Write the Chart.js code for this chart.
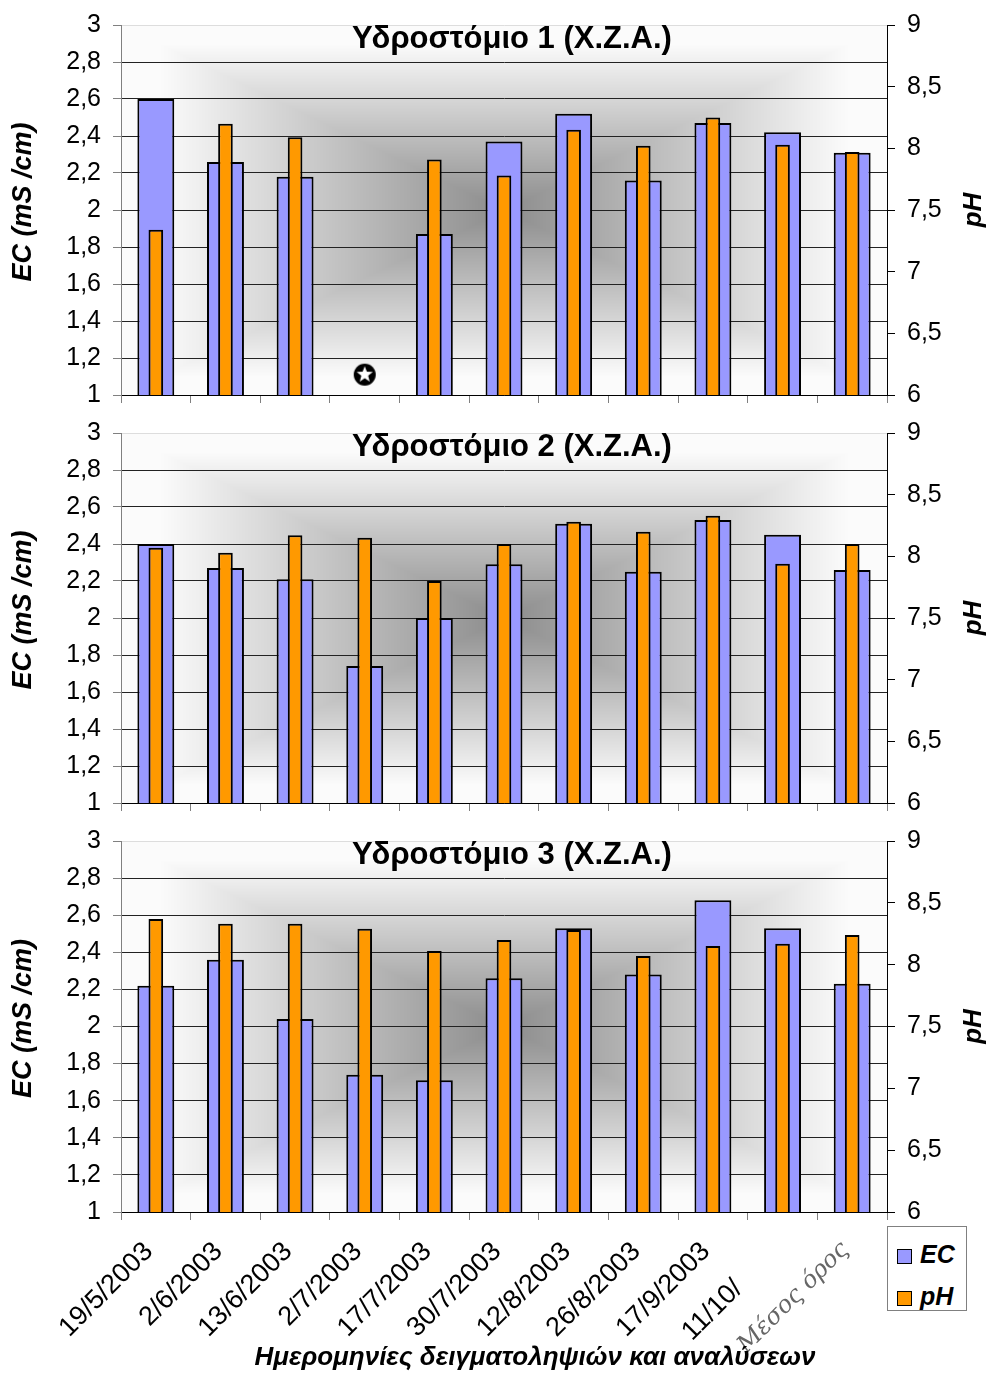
<!DOCTYPE html>
<html>
<head>
<meta charset="utf-8">
<script src="https://cdn.jsdelivr.net/npm/chart.js@4.4.1/dist/chart.umd.min.js"></script>
<style>
  body { margin: 0; background: #fff; width: 990px; height: 1373px; position: relative; overflow: hidden; font-family: Arial, "Liberation Sans", sans-serif; }
  canvas { position: absolute; left: 0; }
  #legend { position: absolute; left: 887px; top: 1226px; width: 78px; height: 83px; border: 1px solid #808080; background: #fff; }
  #legend div { position: absolute; left: 9px; font: italic bold 25px Arial, "Liberation Sans", sans-serif; line-height: 30px; }
  #legend span { display: inline-block; width: 13px; height: 13px; border: 1px solid #000; margin-right: 8px; vertical-align: -1px; }
  #xtitle { position: absolute; left: 0; width: 1070px; top: 1341px; text-align: center; font: italic bold 26px Arial, "Liberation Sans", sans-serif; }
</style>
</head>
<body>
<canvas id="c1" width="990" height="413" style="top:0"></canvas>
<canvas id="c2" width="990" height="408" style="top:413px"></canvas>
<canvas id="c3" width="990" height="552" style="top:821px"></canvas>
<div id="legend">
  <div style="top:12px"><span style="background:#9999ff"></span>EC</div>
  <div style="top:54px"><span style="background:#ff9900"></span>pH</div>
</div>
<div id="xtitle">Ημερομηνίες δειγματοληψιών και αναλύσεων</div>
<script>
const dates = ['19/5/2003', '2/6/2003', '13/6/2003', '2/7/2003', '17/7/2003', '30/7/2003',
  '12/8/2003', '26/8/2003', '17/9/2003', '11/10/\u00a0\u00a0\u00a0\u00a0\u00a0\u00a0\u00a0', 'Μέσος όρος'];
const titles = ['Υδροστόμιο 1 (Χ.Ζ.Α.)', 'Υδροστόμιο 2 (Χ.Ζ.Α.)', 'Υδροστόμιο 3 (Χ.Ζ.Α.)'];

const ec1 = [2.60, 2.26, 2.18, null, 1.87, 2.37, 2.52, 2.16, 2.47, 2.42, 2.31];
const ph1 = [7.34, 8.20, 8.09, null, 7.91, 7.78, 8.15, 8.02, 8.25, 8.03, 7.97];
const missing1 = [null, null, null, 1.11, null, null, null, null, null, null, null];

const ec2 = [2.40, 2.27, 2.21, 1.74, 2.00, 2.29, 2.51, 2.25, 2.53, 2.45, 2.26];
const ph2 = [8.07, 8.03, 8.17, 8.15, 7.80, 8.10, 8.28, 8.20, 8.33, 7.94, 8.10];

const ec3 = [2.22, 2.36, 2.04, 1.74, 1.71, 2.26, 2.53, 2.28, 2.68, 2.53, 2.23];
const ph3 = [8.37, 8.33, 8.33, 8.29, 8.11, 8.20, 8.28, 8.07, 8.15, 8.17, 8.24];

const ecAxis = [1, 3, 0.2];   // min, max, step
const phAxis = [6, 9, 0.5];

const FONT = 'Arial, "Liberation Sans", sans-serif';
const comma = v => String(Math.round(v * 10) / 10).replace('.', ',');

function starIcon() {
  const c = document.createElement('canvas');
  c.width = c.height = 24;
  const g = c.getContext('2d');
  g.fillStyle = '#000';
  g.beginPath(); g.arc(12, 12, 11, 0, Math.PI * 2); g.fill();
  g.fillStyle = '#fff';
  g.beginPath();
  for (let i = 0; i < 10; i++) {
    const r = i % 2 ? 3.6 : 8.5, a = -Math.PI / 2 + i * Math.PI / 5;
    g.lineTo(12 + r * Math.cos(a), 12 + r * Math.sin(a));
  }
  g.closePath(); g.fill();
  return c;
}

// rectangular "from center" gradient behind the plot
const bgPlugin = {
  id: 'bg',
  beforeDraw(chart) {
    const { ctx, chartArea: a } = chart;
    const w = Math.round(a.right - a.left), h = Math.round(a.bottom - a.top);
    const off = document.createElement('canvas');
    off.width = w; off.height = h;
    const g = off.getContext('2d');
    const img = g.createImageData(w, h);
    const hw = w / 2, hh = h / 2;
    for (let y = 0; y < h; y++) {
      for (let x = 0; x < w; x++) {
        const t = Math.min(1, Math.max(Math.abs(x - hw) / hw, Math.abs(y - hh) / hh) / 0.9);
        const v = 140 + (251 - 140) * t;
        const i = (y * w + x) * 4;
        img.data[i] = img.data[i + 1] = img.data[i + 2] = v;
        img.data[i + 3] = 255;
      }
    }
    g.putImageData(img, 0, 0);
    ctx.drawImage(off, a.left, a.top);
  }
};

const textPlugin = {
  id: 'panelText',
  afterDraw(chart, args, opts) {
    const { ctx, chartArea: a } = chart;
    const cy = (a.top + a.bottom) / 2;
    ctx.save();
    ctx.fillStyle = '#000';
    ctx.textAlign = 'center';
    ctx.font = 'bold 31px ' + FONT;
    ctx.textBaseline = 'alphabetic';
    ctx.fillText(opts.title, (a.left + a.right) / 2 + 8, a.top + 23);
    ctx.textBaseline = 'middle';
    ctx.font = 'italic bold 27px ' + FONT;
    ctx.save();
    ctx.translate(24, cy - 8); ctx.rotate(-Math.PI / 2);
    ctx.fillText('EC (mS /cm)', 0, 0);
    ctx.restore();
    ctx.font = 'italic bold 26px ' + FONT;
    ctx.translate(974, cy); ctx.rotate(-Math.PI / 2);
    ctx.fillText('pH', 0, 0);
    ctx.restore();
  }
};

// keep tick labels from pushing the plot area around
const noPad = s => { s.paddingTop = 0; s.paddingBottom = 0; };

function makePanel(id, ec, ph, title, padTop, xHeight, showLabels, missing) {
  const datasets = [
    { label: 'pH', data: ph, yAxisID: 'y1', order: 1, backgroundColor: '#ff9900', borderColor: '#000', borderWidth: 2, barPercentage: 0.21, categoryPercentage: 1 },
    { label: 'EC', data: ec, yAxisID: 'y', order: 2, backgroundColor: '#9999ff', borderColor: '#000', borderWidth: 2, barPercentage: 0.53, categoryPercentage: 1 }
  ];
  if (missing) {
    datasets.push({ type: 'line', label: 'n/a', data: missing, yAxisID: 'y', order: 0, showLine: false, pointStyle: starIcon(), pointRadius: 12 });
  }
  return new Chart(document.getElementById(id), {
    type: 'bar',
    data: { labels: dates, datasets },
    plugins: [bgPlugin, textPlugin],
    options: {
      responsive: false,
      animation: false,
      grouped: false,
      layout: { padding: { top: padTop, left: 0, right: 0, bottom: 0 } },
      plugins: {
        legend: { display: false },
        tooltip: { enabled: false },
        panelText: { title }
      },
      scales: {
        x: {
          grid: { offset: true, drawOnChartArea: false, drawTicks: true, tickLength: 8, color: '#808080' },
          border: { color: '#000' },
          ticks: {
            display: showLabels, autoSkip: false, maxRotation: 45, minRotation: 45, padding: 16, labelOffset: -7,
            color: c => c.index === 10 ? '#666' : '#000',
            font: c => c.index === 10 ? { family: '"DejaVu Serif", serif', style: 'italic', size: 24 } : { family: FONT, size: 27 }
          },
          afterFit: s => { s.height = xHeight; s.paddingLeft = 0; s.paddingRight = 0; }
        },
        y: {
          position: 'left', min: ecAxis[0], max: ecAxis[1],
          grid: { color: c => c.tick && c.tick.value > 2.99 ? '#dddddd' : '#222222', tickColor: '#808080', tickLength: 8 },
          border: { color: '#808080' },
          ticks: { stepSize: ecAxis[2], padding: 12, color: '#000', font: { family: FONT, size: 25 }, callback: v => comma(v) },
          afterFit: s => { s.width = 121; noPad(s); }
        },
        y1: {
          position: 'right', min: phAxis[0], max: phAxis[1],
          grid: { drawOnChartArea: false, tickLength: 8, color: '#000' },
          border: { color: '#000' },
          ticks: { stepSize: phAxis[2], padding: 12, color: '#000', font: { family: FONT, size: 25 }, callback: v => comma(v) },
          afterFit: s => { s.width = 103; noPad(s); }
        }
      }
    }
  });
}

makePanel('c1', ec1, ph1, titles[0], 25, 18, false, missing1);
makePanel('c2', ec2, ph2, titles[1], 20, 18, false, null);
makePanel('c3', ec3, ph3, titles[2], 20, 161, true, null);
</script>
</body>
</html>
